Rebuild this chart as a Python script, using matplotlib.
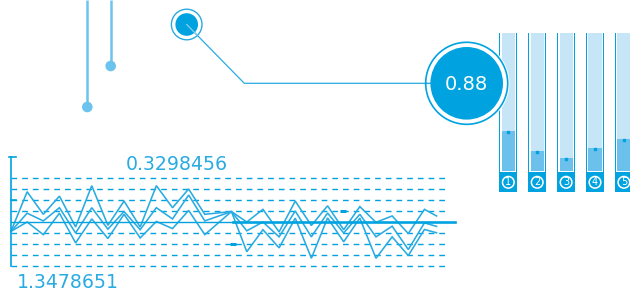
import matplotlib
matplotlib.use("Agg")
import matplotlib.pyplot as plt
from matplotlib.patches import Circle

BLUE = "#00a3e0"
LINE_BLUE = "#29abe2"
LIGHT_BLUE = "#6cc4ee"
PALE_BLUE = "#c6e5f7"
MID_BLUE = "#6cc0ec"

# line chart data (x in point steps, y in grid steps around the centre line)
point_x = [0, 1, 2, 3, 4, 5, 6, 7, 8, 9, 10, 11, 12, 13.65,
           14.6, 15.6, 16.6, 17.6, 18.6, 19.6, 20.6, 21.6, 22.6, 23.6, 24.6, 25.6, 26.35]
series_top = [-0.85, 2.75, 0.7, 2.35, -0.45, 3.3, -0.3, 1.9, -0.45, 3.3, 1.3, 3.0, 0.7, 0.95,
              0.0, 1.15, -0.9, 1.9, -0.32, 1.47, -0.7, 1.4, -0.03, 0.55, -1.05, 1.15, 0.55]
series_mid = [-0.85, 0.8, 0.1, 1.3, -1.0, 1.3, -0.65, 0.95, -0.7, 1.3, 0.28, 2.45, 0.1, 0.95,
              -0.8, 0.0, -1.35, 1.0, -1.35, 0.82, -1.0, 0.7, -1.35, -0.38, -2.5, -0.08, -0.4]
series_low = [-0.85, 0.0, -1.15, 0.8, -1.9, 0.28, -1.5, 0.7, -1.45, 0.05, -0.6, 1.05, -1.15, 0.95,
              -2.7, -0.7, -2.35, 0.35, -3.3, 0.37, -1.8, 0.35, -3.3, -1.35, -3.05, -0.68, -0.98]
grid_levels = [-4, -3, -2, -1, 1, 2, 3, 4]
label_high = "0.3298456"
label_low = "1.3478651"

# small gauge bars
bar_labels = ["1", "2", "3", "4", "5"]
bar_values = [0.289, 0.143, 0.092, 0.165, 0.233]

gauge_value = "0.88"

W, H = 630, 292
fig = plt.figure(figsize=(W / 100, H / 100), dpi=100)
fig.patch.set_facecolor("white")


def frac(x0, y0, x1, y1):
    # pixel box (top-left origin) -> figure fraction
    return [x0 / W, (H - y1) / H, (x1 - x0) / W, (y1 - y0) / H]


# ---- line chart ----
ax = fig.add_axes(frac(0, 150, 460, 292))
ax.set_xlim(-11 / 16.15, 449 / 16.15)
ax.set_ylim(-70 / 11, 72 / 11)
ax.axis("off")

grid_end = 436 / 16.15
for lvl in grid_levels:
    ax.plot([0, grid_end], [lvl, lvl], color=BLUE, lw=1.0,
            linestyle=(0, (4.1, 3.6)), zorder=1)
split = 222 / 16.15
ax.plot([0, split], [0, 0], color=BLUE, lw=1.0, zorder=3)
ax.plot([split, 444 / 16.15], [0, 0], color=BLUE, lw=1.9, zorder=4)

for ys in (series_top, series_mid, series_low):
    ax.plot(point_x, ys, color=LINE_BLUE, lw=1.15, zorder=2, solid_joinstyle="miter")

# axis with caps
ax.plot([0, 0], [-4, 65 / 11], color=BLUE, lw=1.2, zorder=3)
ax.plot([-0.15, 0.28], [65 / 11, 65 / 11], color=BLUE, lw=1.2, zorder=3)
ax.plot([0, 0.28], [2, 2], color=BLUE, lw=1.2, zorder=3)
ax.plot([20.56], [1], marker="_", ms=4, mew=2.2, color=BLUE, zorder=3)
ax.plot([13.75], [-2], marker="_", ms=4, mew=2.2, color=BLUE, zorder=3)

ax.text(115 / 16.15, 58 / 11, label_high, color=LINE_BLUE, fontsize=13.6,
        ha="left", va="center")
ax.text(6 / 16.15, -60 / 11, label_low, color=LINE_BLUE, fontsize=13.6,
        ha="left", va="center")

# ---- gauge bars ----
bx = fig.add_axes(frac(490, 0, 630, 200))
bx.set_xlim(-18.3 / 28.9, 121.7 / 28.9)
bx.set_ylim(-29.3 / 137.4, 170.7 / 137.4)
bx.axis("off")

idx = list(range(len(bar_values)))
bx.bar(idx, 1.157, bottom=-0.157, width=0.633, color=BLUE, zorder=1)
bx.bar(idx, 1.0116, bottom=-0.0116, width=0.543, color="white", zorder=2)
bx.bar(idx, 1.0, bottom=0, width=0.453, color=PALE_BLUE, zorder=3)
bx.bar(idx, bar_values, bottom=0, width=0.453, color=MID_BLUE, zorder=4)
bx.scatter(idx, [v - 0.006 for v in bar_values], marker="s", s=3, color=BLUE, zorder=5)
label_y = -11.6 / 137.4
bx.scatter(idx, [label_y] * len(idx), marker="o", s=70, facecolor="none",
           edgecolor="white", linewidths=1.1, zorder=5)
for i, lab in zip(idx, bar_labels):
    bx.text(i, label_y, lab, color="white", fontsize=7, ha="center", va="center",
            zorder=6)

# ---- callout overlay ----
ov = fig.add_axes([0, 0, 1, 1], zorder=5)
ov.set_xlim(0, W)
ov.set_ylim(H, 0)
ov.axis("off")
ov.patch.set_alpha(0)

for x, y_end in ((87.3, 107), (110.7, 66)):
    ov.plot([x, x], [0, y_end], color=LIGHT_BLUE, lw=1.8, solid_capstyle="butt")
    ov.add_patch(Circle((x, y_end), 5.3, color=LIGHT_BLUE, lw=0))

ov.add_patch(Circle((186.7, 24.5), 15.3, facecolor="white", edgecolor=LINE_BLUE, lw=1.0))
ov.add_patch(Circle((186.7, 24.5), 11.3, color=BLUE, lw=0))
ov.plot([186.7, 244.3, 440], [24.5, 83.3, 83.3], color=LINE_BLUE, lw=0.9, zorder=3)
ov.plot([186.7, 197], [24.5, 35], color="#7fcdf0", lw=0.9, zorder=3)

ov.add_patch(Circle((466.7, 83.3), 42.8, color="white", lw=0, zorder=2))
ov.plot([424, 440], [83.3, 83.3], color=LINE_BLUE, lw=0.9, zorder=3)
ov.add_patch(Circle((466.7, 83.3), 41.0, facecolor="none", edgecolor=BLUE, lw=1.2, zorder=4))
ov.add_patch(Circle((466.7, 83.3), 36.3, color=BLUE, lw=0, zorder=5))
ov.text(466.7, 84, gauge_value, color="white", fontsize=14, ha="center", va="center",
        zorder=6)

fig.savefig("out.png", dpi=100, facecolor="white")
